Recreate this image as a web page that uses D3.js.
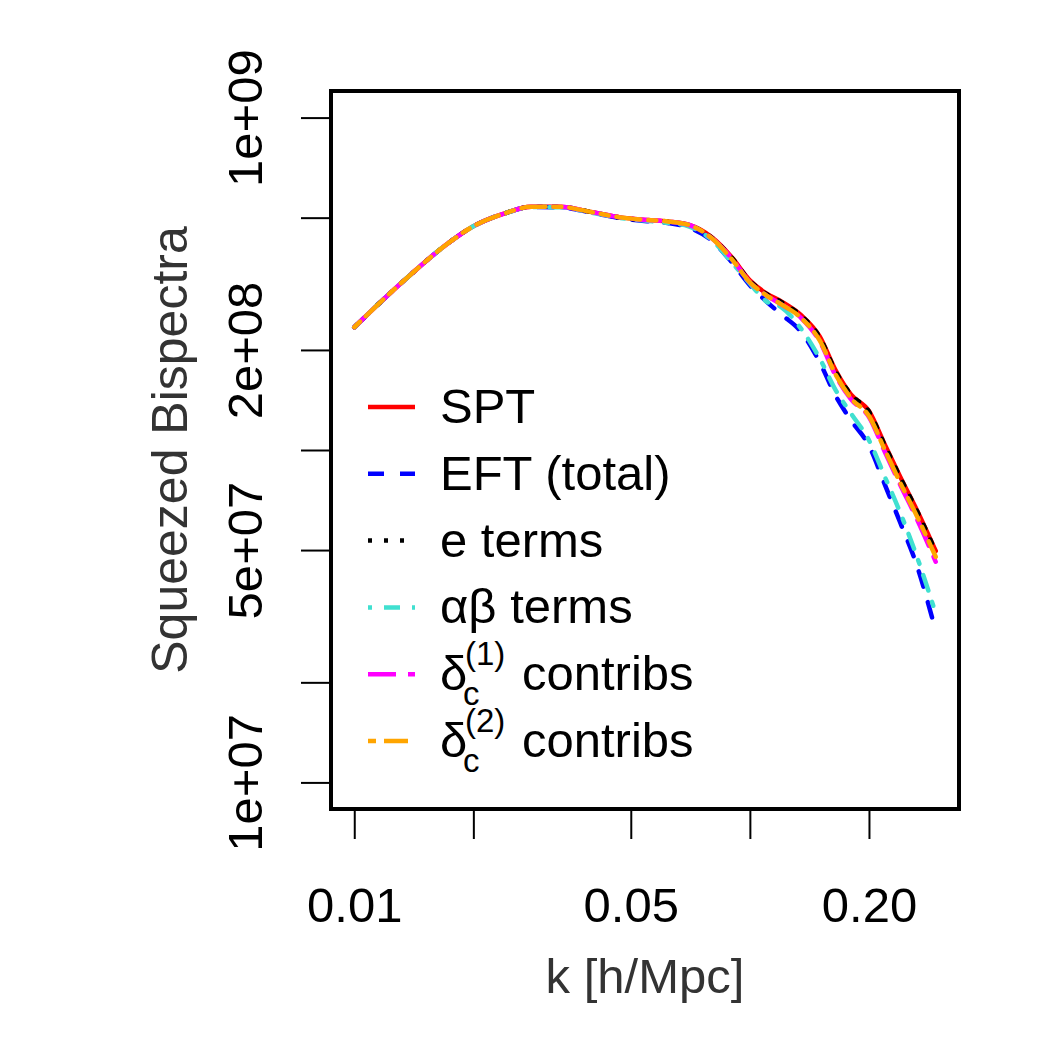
<!DOCTYPE html>
<html>
<head>
<meta charset="utf-8">
<script src="https://cdn.jsdelivr.net/npm/d3@7"></script>
<style>
  body { margin: 0; background: #fff; }
  text { font-family: "Liberation Sans", Arial, Helvetica, sans-serif; }
</style>
</head>
<body>
<div id="chart"></div>
<script>
var w = 1050;
var h = 1050;

// k values [h/Mpc]
var kVals = [0.010, 0.012, 0.014, 0.017, 0.020, 0.024, 0.028, 0.033, 0.040, 0.047, 0.055, 0.062, 0.070,
             0.080, 0.090, 0.10, 0.11, 0.12, 0.135, 0.15, 0.165, 0.18, 0.20, 0.22, 0.24, 0.265, 0.295];

var sptVals = [2.34e8, 2.88e8, 3.40e8, 4.13e8, 4.71e8, 5.15e8, 5.39e8, 5.39e8, 5.19e8, 5.01e8, 4.92e8, 4.87e8, 4.76e8,
               4.37e8, 3.80e8, 3.24e8, 2.96e8, 2.80e8, 2.54e8, 2.20e8, 1.73e8, 1.47e8, 1.31e8, 1.03e8, 8.30e7, 6.56e7, 4.97e7];
var eftVals = [2.34e8, 2.88e8, 3.40e8, 4.13e8, 4.71e8, 5.15e8, 5.38e8, 5.37e8, 5.17e8, 4.98e8, 4.88e8, 4.82e8, 4.67e8,
               4.27e8, 3.67e8, 3.13e8, 2.80e8, 2.56e8, 2.26e8, 1.84e8, 1.45e8, 1.23e8, 1.03e8, 7.80e7, 6.04e7, 4.45e7, 2.85e7];
var eVals   = [2.34e8, 2.88e8, 3.40e8, 4.13e8, 4.71e8, 5.15e8, 5.39e8, 5.39e8, 5.19e8, 5.00e8, 4.91e8, 4.86e8, 4.75e8,
               4.36e8, 3.79e8, 3.23e8, 2.95e8, 2.79e8, 2.53e8, 2.19e8, 1.72e8, 1.47e8, 1.305e8, 1.025e8, 8.27e7, 6.53e7, 4.95e7];
var abVals  = [2.34e8, 2.88e8, 3.40e8, 4.13e8, 4.71e8, 5.15e8, 5.38e8, 5.37e8, 5.17e8, 4.99e8, 4.89e8, 4.82e8, 4.71e8,
               4.29e8, 3.67e8, 3.17e8, 2.80e8, 2.69e8, 2.31e8, 1.89e8, 1.51e8, 1.29e8, 1.07e8, 8.24e7, 6.47e7, 4.74e7, 3.22e7];
var dc1Vals = [2.34e8, 2.88e8, 3.40e8, 4.13e8, 4.71e8, 5.15e8, 5.39e8, 5.39e8, 5.19e8, 5.01e8, 4.92e8, 4.87e8, 4.76e8,
               4.34e8, 3.77e8, 3.196e8, 2.92e8, 2.744e8, 2.49e8, 2.125e8, 1.668e8, 1.423e8, 1.257e8, 9.79e7, 7.85e7, 6.16e7, 4.61e7];
var dc2Vals = [2.34e8, 2.88e8, 3.40e8, 4.13e8, 4.71e8, 5.15e8, 5.39e8, 5.39e8, 5.19e8, 5.01e8, 4.92e8, 4.87e8, 4.76e8,
               4.34e8, 3.75e8, 3.196e8, 2.92e8, 2.744e8, 2.49e8, 2.14e8, 1.68e8, 1.433e8, 1.265e8, 9.93e7, 7.96e7, 6.29e7, 4.77e7];

var xTicks = [0.01, 0.02, 0.05, 0.1, 0.2];
var xTickLabels = ["0.01", "", "0.05", "", "0.20"];
var yTicks = [1e7, 2e7, 5e7, 1e8, 2e8, 5e8, 1e9];
var yTickLabels = ["1e+07", "", "5e+07", "", "2e+08", "", "1e+09"];

var series = [
    { name: "SPT", values: sptVals, color: "#FF0000", dash: null },
    { name: "EFT (total)", values: eftVals, color: "#0000FF", dash: "16,16" },
    { name: "e terms", values: eVals, color: "#000000", dash: "4,12" },
    { name: "\u03b1\u03b2 terms", values: abVals, color: "#40E0D0", dash: "4,12,16,12" },
    { name: "dc1", values: dc1Vals, color: "#FF00FF", dash: "28,12" },
    { name: "dc2", values: dc2Vals, color: "#FFA500", dash: "8,8,24,8" }
];

// plot region (R-like)
var plotL = 331, plotR = 959, plotT = 91, plotB = 809;

// R style 4% extension on log ranges
function extend(lo, hi) {
    var a = Math.log10(lo), b = Math.log10(hi), e = 0.04 * (b - a);
    return [Math.pow(10, a - e), Math.pow(10, b + e)];
}

var x = d3.scaleLog()
    .domain(extend(d3.min(kVals), d3.max(kVals)))
    .range([plotL, plotR]);

var y = d3.scaleLog()
    .domain(extend(1e7, 1e9))
    .range([plotB, plotT]);

var svg = d3.select("#chart")
    .append("svg")
    .attr("width", w)
    .attr("height", h);

var fs = 49;

// curves
var line = d3.line()
    .x(function(d) { return x(d[0]); })
    .y(function(d) { return y(d[1]); })
    .curve(d3.curveMonotoneX);

series.forEach(function(s) {
    svg.append("path")
        .datum(kVals.map(function(k, i) { return [k, s.values[i]]; }))
        .attr("d", line)
        .attr("fill", "none")
        .attr("stroke", s.color)
        .attr("stroke-width", 4.5)
        .attr("stroke-dasharray", s.dash)
        .attr("stroke-linecap", "round")
        .attr("stroke-linejoin", "round");
});

// box
svg.append("rect")
    .attr("x", plotL)
    .attr("y", plotT)
    .attr("width", plotR - plotL)
    .attr("height", plotB - plotT)
    .attr("fill", "none")
    .attr("stroke", "#000")
    .attr("stroke-width", 4);

// x axis
var xAxis = d3.axisBottom(x)
    .tickValues(xTicks)
    .tickSize(30)
    .tickPadding(48)
    .tickFormat(function(d, i) { return xTickLabels[i]; });

var gx = svg.append("g")
    .attr("transform", "translate(0," + plotB + ")")
    .call(xAxis);
gx.select(".domain").remove();
gx.selectAll(".tick line").attr("stroke", "#000").attr("stroke-width", 2);
gx.selectAll(".tick text")
    .attr("fill", "#000")
    .style("font-size", fs + "px")
    .style("font-family", "Liberation Sans, Arial, sans-serif");

// y axis
var yAxis = d3.axisLeft(y)
    .tickValues(yTicks)
    .tickSize(30)
    .tickFormat(function(d, i) { return yTickLabels[i]; });

var gy = svg.append("g")
    .attr("transform", "translate(" + plotL + ",0)")
    .call(yAxis);
gy.select(".domain").remove();
gy.selectAll(".tick line").attr("stroke", "#000").attr("stroke-width", 2);
gy.selectAll(".tick text")
    .attr("fill", "#000")
    .attr("x", null)
    .attr("dy", null)
    .attr("text-anchor", "middle")
    .attr("transform", "translate(-69,0) rotate(-90)")
    .style("font-size", fs + "px")
    .style("font-family", "Liberation Sans, Arial, sans-serif");

// axis titles
svg.append("text")
    .attr("x", (plotL + plotR) / 2)
    .attr("y", 993)
    .attr("text-anchor", "middle")
    .style("font-size", fs + "px")
    .style("fill", "#333")
    .text("k [h/Mpc]");

svg.append("text")
    .attr("transform", "translate(187," + (plotT + plotB) / 2 + ") rotate(-90)")
    .attr("text-anchor", "middle")
    .style("font-size", (fs + 1) + "px")
    .style("fill", "#333")
    .text("Squeezed Bispectra");

// legend
var legX0 = 368, legX1 = 415, legTx = 440, legY0 = 407, legDy = 66.8;
var leg = svg.append("g");

series.forEach(function(s, i) {
    var ly = legY0 + i * legDy;
    leg.append("line")
        .attr("x1", legX0).attr("x2", legX1)
        .attr("y1", ly).attr("y2", ly)
        .attr("stroke", s.color)
        .attr("stroke-width", 4.5)
        .attr("stroke-dasharray", s.dash);

    var t = leg.append("text")
        .attr("x", legTx)
        .attr("y", ly + 16)
        .style("font-size", fs + "px");

    if (s.name === "dc1" || s.name === "dc2") {
        var sup = s.name === "dc1" ? "(1)" : "(2)";
        t.append("tspan").text("\u03b4");
        t.append("tspan").attr("x", legTx + 23).attr("dy", 15)
            .style("font-size", "33px").text("c");
        t.append("tspan").attr("x", legTx + 25).attr("dy", -40)
            .style("font-size", "33px").text(sup);
        t.append("tspan").attr("x", legTx + 82).attr("dy", 25).text("contribs");
    } else {
        t.text(s.name);
    }
});
</script>
</body>
</html>
